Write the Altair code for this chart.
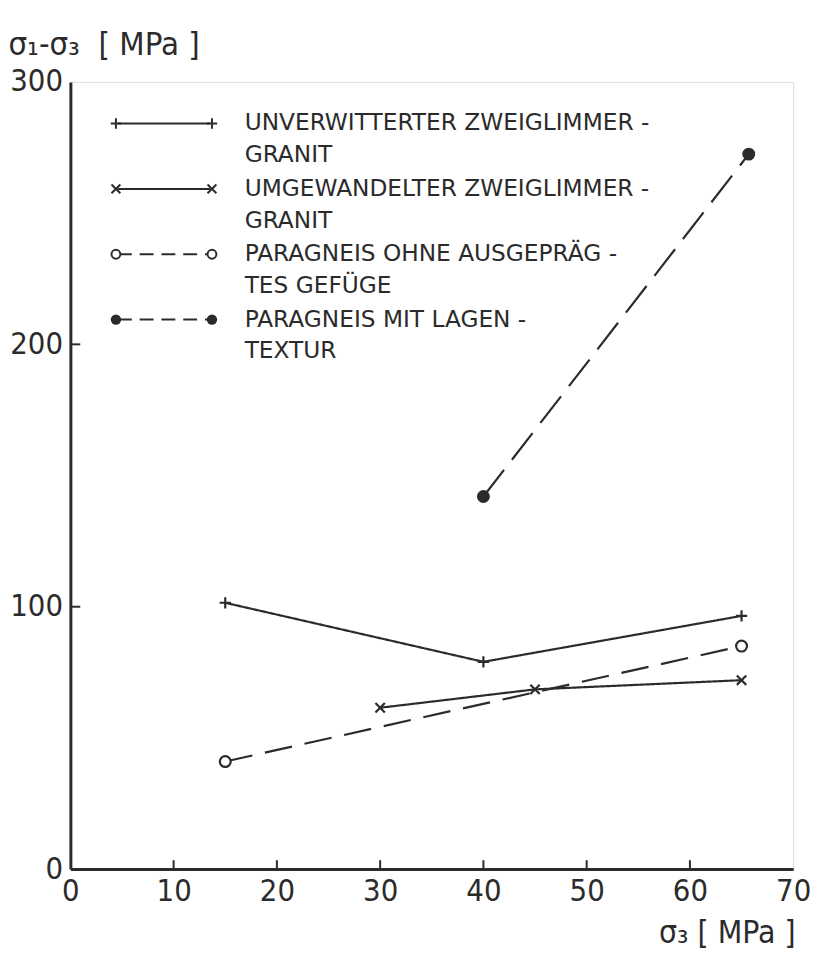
import altair as alt
import pandas as pd

# ---- data ----
plus_x = [15, 40, 65]
plus_y = [101.5, 79, 96.5]
cross_x = [30, 45, 65]
cross_y = [61.5, 68.5, 72]
open_x = [15, 65]
open_y = [41, 85]
filled_x = [40, 65.7]
filled_y = [142, 272.5]

x_ticks = [10, 20, 30, 40, 50, 60]
y_ticks = [100, 200]

legend_text = [
    ["UNVERWITTERTER ZWEIGLIMMER -", "GRANIT"],
    ["UMGEWANDELTER ZWEIGLIMMER -", "GRANIT"],
    ["PARAGNEIS OHNE AUSGEPRÄG -", "TES GEFÜGE"],
    ["PARAGNEIS MIT LAGEN -", "TEXTUR"],
]

INK = "#2b2b2b"
W, H = 730, 795
PLUS = "M-1,0H1M0,-1V1"
CROSS = "M-1,-1L1,1M-1,1L1,-1"
AXFONT = "DejaVu Sans Condensed, DejaVu Sans"
NB = "\u00a0"

xs = alt.Scale(domain=[0, 70], nice=False, zero=False)
ys = alt.Scale(domain=[0, 300], nice=False, zero=False)

x_enc = alt.X(
    "x:Q", scale=xs,
    axis=alt.Axis(
        values=[0, 10, 20, 30, 40, 50, 60, 70], ticks=False, grid=False,
        domainWidth=3, domainColor=INK, labelFontSize=31, labelPadding=8,
        labelFont=AXFONT, labelColor=INK,
        labelFlush=False, title="σ₃ [ MPa ]", titleFontSize=32,
        titleFont=AXFONT, titleFontWeight="normal",
        titleColor=INK, titleAnchor="end", titleAlign="right", titleX=W + 2,
        titleY=74, titleBaseline="alphabetic",
    ),
)
y_enc = alt.Y(
    "y:Q", scale=ys,
    axis=alt.Axis(
        values=[0, 100, 200, 300], ticks=False, grid=False,
        domainWidth=3, domainColor=INK, labelFontSize=31, labelPadding=8,
        labelFont=AXFONT, labelColor=INK,
        labelFlush=False, title=f"σ₁-σ₃{NB}{NB}[ MPa ]", titleFontSize=33,
        titleFont=AXFONT, titleFontWeight="normal",
        titleColor=INK, titleAngle=0, titleAlign="left", titleX=-63, titleY=-28,
        titleBaseline="alphabetic",
    ),
)


def series(xv, yv, shape, filled, dash, size):
    df = pd.DataFrame({"x": xv, "y": yv})
    base = alt.Chart(df)
    line = base.mark_line(color=INK, strokeWidth=2.2, strokeDash=dash).encode(x=x_enc, y=y_enc)
    pts = base.mark_point(
        shape=shape, size=size, filled=filled, strokeWidth=2.2,
        color=INK, fill=INK if filled else "white", opacity=1,
    ).encode(x=x_enc, y=y_enc)
    return line + pts


layers = [
    series(plus_x, plus_y, PLUS, False, [1, 0], 130),
    series(cross_x, cross_y, CROSS, False, [1, 0], 90),
    series(open_x, open_y, "circle", False, [28, 13], 120),
    series(filled_x, filled_y, "circle", True, [34, 13], 170),
]

# inward ticks
xt = alt.Chart(pd.DataFrame({"x": x_ticks})).mark_rule(color=INK, strokeWidth=2).encode(
    x=x_enc, y=alt.value(H), y2=alt.value(H - 9)
)
yt = alt.Chart(pd.DataFrame({"y": y_ticks})).mark_rule(color=INK, strokeWidth=2).encode(
    y=y_enc, x=alt.value(0), x2=alt.value(10)
)

# legend (layout in pixels)
rows = []
for i, lines in enumerate(legend_text):
    for j, t in enumerate(lines):
        rows.append({"row": i, "line": j, "text": t})
leg_txt = pd.DataFrame(rows)
leg_sym = pd.DataFrame({"row": list(range(len(legend_text)))})

ROW0, ROWH, LINEH = 42, 66, 32
text_layer = alt.Chart(leg_txt).transform_calculate(
    py=f"{ROW0} + {ROWH}*datum.row + {LINEH}*datum.line"
).mark_text(
    align="left", baseline="middle", font="DejaVu Sans", fontSize=23.5, color=INK
).encode(x=alt.value(176), y=alt.Y("py:Q", scale=None), text="text:N")

sym_layers = []
shapes = [PLUS, CROSS, "circle", "circle"]
fills = [False, False, False, True]
dashes = [[1, 0], [1, 0], [14, 8], [14, 8]]
sizes = [110, 80, 80, 110]
for i in range(4):
    d = leg_sym[leg_sym.row == i]
    b = alt.Chart(d).transform_calculate(py=f"{ROW0} + {ROWH}*datum.row")
    sym_layers.append(
        b.mark_rule(color=INK, strokeWidth=2, strokeDash=dashes[i]).encode(
            x=alt.value(48), x2=alt.value(141), y=alt.Y("py:Q", scale=None)
        )
    )
    for px in (46, 143):
        sym_layers.append(
            b.mark_point(shape=shapes[i], size=sizes[i], filled=fills[i], strokeWidth=2,
                         color=INK, fill=INK if fills[i] else "white", opacity=1).encode(
                x=alt.value(px), y=alt.Y("py:Q", scale=None)
            )
        )

chart = alt.layer(*layers, xt, yt, text_layer, *sym_layers).properties(
    width=W, height=H,
    autosize=alt.AutoSizeParams(type="none"),
    padding={"left": 63, "top": 70, "right": 17, "bottom": 76},
).configure_view(stroke=INK, strokeWidth=1.6).configure(background="white")

chart.save("out.html", embed_options={"renderer": "svg", "actions": False})
